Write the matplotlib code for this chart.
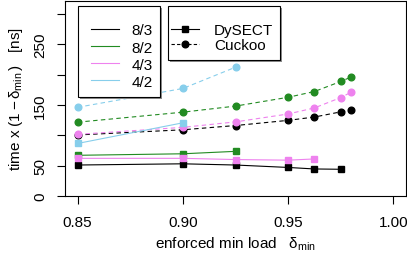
import matplotlib
matplotlib.use('Agg')
import matplotlib.pyplot as plt
from matplotlib.lines import Line2D
from matplotlib.patches import Rectangle

plt.rcParams['font.family'] = ['Liberation Sans', 'DejaVu Sans']
plt.rcParams['mathtext.fontset'] = 'custom'
plt.rcParams['mathtext.rm'] = 'Liberation Sans'
plt.rcParams['mathtext.it'] = 'Liberation Sans'

# x values (enforced min load)
x_all = [0.85, 0.90, 0.925, 0.95, 0.9625, 0.975, 0.98]

# DySECT (solid, squares)
dysect_83 = [51, 53, 51, 47, 44.5, 44]
dysect_82 = [67, 69.5, 73.5]
dysect_43 = [62, 62, 60, 59, 61]
dysect_42 = [86.5, 120.5]

# Cuckoo (dashed, circles)
cuckoo_83 = [100.5, 109, 116, 124.5, 130, 138.5, 142]
cuckoo_82 = [121.5, 138, 148, 162.5, 172, 188.5, 196]
cuckoo_43 = [101.5, 113, 122, 135, 145, 162, 171]
cuckoo_42 = [146, 177, 212]

names = ['8/3', '8/2', '4/3', '4/2']
colors = ['black', '#228B22', '#EE82EE', '#87CEEB']

yticks = [0, 50, 100, 150, 200, 250, 300]
ytick_labels = ['0', '50', '', '150', '', '250', '']
xticks = [0.85, 0.90, 0.95, 1.00]

W, H = 407, 255
fs = 11

fig = plt.figure(figsize=(W/100, H/100), dpi=100)
ax = fig.add_axes([65/W, 58/H, 341/W, 195/H])

dys = [dysect_83, dysect_82, dysect_43, dysect_42]
cuc = [cuckoo_83, cuckoo_82, cuckoo_43, cuckoo_42]
for d, c, col in zip(dys, cuc, colors):
    ax.plot(x_all[:len(c)], c, color=col, ls=(0, (4, 3)), lw=0.8,
            marker='o', ms=4.8, mec=col, mfc=col)
    ax.plot(x_all[:len(d)], d, color=col, ls='-', lw=0.8,
            marker='s', ms=4.8, mec=col, mfc=col)

ax.set_xlim(0.844, 1.006)
ax.set_ylim(0, 321)
ax.set_xticks(xticks)
ax.set_xticklabels(['0.85', '0.90', '0.95', '1.00'])
ax.set_yticks(yticks)
ax.set_yticklabels(ytick_labels, rotation=90, va='center')
ax.tick_params(labelsize=fs, length=5.8, width=0.8)
ax.tick_params(axis='x', pad=8)
ax.tick_params(axis='y', pad=7)
for s in ax.spines.values():
    s.set_linewidth(0.8)

ax.set_xlabel(r'enforced min load   $\delta_{\rm min}$', fontsize=fs, labelpad=4)
ax.set_ylabel(r'time x $(1-\delta_{\rm min}\,)$   [ns]', fontsize=fs, labelpad=6)


# legend frames with grey drop shadow (pixel boxes: x0, y0 top, x1, y1 bottom)
def frame(x0, y0, x1, y1):
    sh = Rectangle((x0/W + 2/W, 1 - y1/H - 2/H), (x1 - x0)/W, (y1 - y0)/H,
                   transform=fig.transFigure, facecolor='#8c8c8c',
                   edgecolor='none', zorder=4)
    bx = Rectangle((x0/W, 1 - y1/H), (x1 - x0)/W, (y1 - y0)/H,
                   transform=fig.transFigure, facecolor='white',
                   edgecolor='black', lw=0.8, zorder=5)
    fig.add_artist(sh)
    fig.add_artist(bx)


frame(77.5, 7, 160, 97.5)
frame(167.5, 6.5, 280, 61)

# legend 1: variants
h1 = [Line2D([], [], color=col, lw=0.8) for col in colors]
leg1 = fig.legend(h1, names, loc='upper left', bbox_to_anchor=(91/W, 1 - 24.5/H),
                  fontsize=fs, frameon=False, borderpad=0, borderaxespad=0,
                  handlelength=1.8, handletextpad=0.85, labelspacing=0.2)
leg1.set_zorder(6)

# legend 2: methods
h2 = [Line2D([], [], color='black', lw=0.8, marker='s', ms=4.8),
      Line2D([], [], color='black', lw=0.8, ls=(0, (3, 2)), marker='o', ms=4.8)]
leg2 = fig.legend(h2, ['DySECT', 'Cuckoo'], loc='upper left',
                  bbox_to_anchor=(171/W, 1 - 24.5/H), fontsize=fs, frameon=False,
                  borderpad=0, borderaxespad=0, handlelength=1.8,
                  handletextpad=1.0, labelspacing=0.05)
leg2.set_zorder(6)

fig.savefig('out.png', dpi=100)
